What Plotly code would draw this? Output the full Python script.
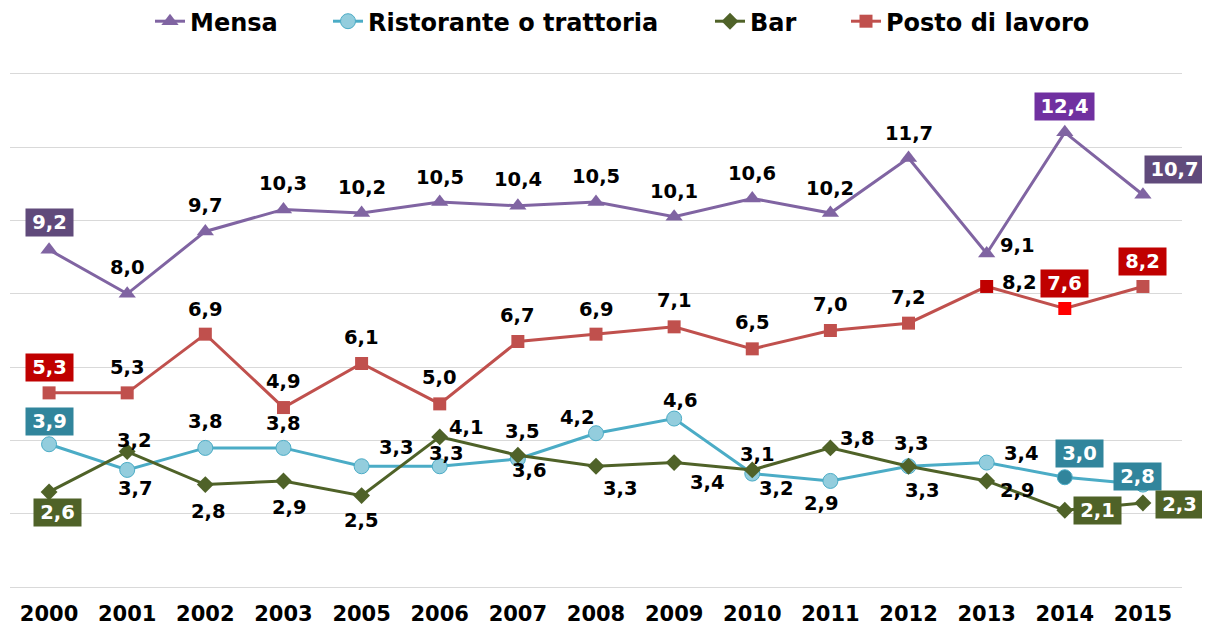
import plotly.graph_objects as go

years = ["2000", "2001", "2002", "2003", "2005", "2006", "2007", "2008",
         "2009", "2010", "2011", "2012", "2013", "2014", "2015"]

mensa = [9.2, 8.0, 9.7, 10.3, 10.2, 10.5, 10.4, 10.5, 10.1, 10.6, 10.2, 11.7, 9.1, 12.4, 10.7]
ristorante = [3.9, 3.2, 3.8, 3.8, 3.3, 3.3, 3.5, 4.2, 4.6, 3.1, 2.9, 3.3, 3.4, 3.0, 2.8]
bar = [2.6, 3.7, 2.8, 2.9, 2.5, 4.1, 3.6, 3.3, 3.4, 3.2, 3.8, 3.3, 2.9, 2.1, 2.3]
posto = [5.3, 5.3, 6.9, 4.9, 6.1, 5.0, 6.7, 6.9, 7.1, 6.5, 7.0, 7.2, 8.2, 7.6, 8.2]

series_names = ["Mensa", "Ristorante o trattoria", "Bar", "Posto di lavoro"]

y_ticks = [0, 2, 4, 6, 8, 10, 12, 14]
Y_MIN, Y_MAX, Y_PAD = 0, 14, 0.1

FONT = "DejaVu Sans"

# page body has an 8px default margin; lay out the figure in page pixels minus 8
OFF = 8
W, H = 1210 - OFF, 626 - OFF
PLOT_LEFT, PLOT_RIGHT = 10 - OFF, 1182 - OFF          # category band edges
Y_TOP_PX, Y_BOT_PX = 74 - OFF, 587 - OFF              # pixel rows of 14 and 0
ppu = (Y_BOT_PX - Y_TOP_PX) / (Y_MAX - Y_MIN)
MT = Y_TOP_PX - Y_PAD * ppu
MB = H - (Y_BOT_PX + Y_PAD * ppu)
ML, MR = PLOT_LEFT, W - PLOT_RIGHT
PW = W - ML - MR
PH = H - MT - MB

# label offsets (xshift, yshift) in px per point — styling only
off_mensa = [(0, 27), (0, 26), (0, 26), (0, 26), (0, 26), (0, 25), (0, 26), (0, 26),
             (0, 25), (0, 25), (0, 25), (0, 25), (31, 8), (0, 26), (32, 25)]
off_posto = [(0, 25), (0, 25), (0, 25), (0, 26), (0, 26), (0, 26), (0, 26), (0, 25),
             (0, 26), (0, 26), (0, 26), (0, 26), (33, 4), (0, 25), (0, 25)]
off_rist = [(0, 23), (7, 29), (0, 26), (0, 24), (35, 19), (7, 13), (5, 27), (-19, 16),
            (6, 18), (5, 19), (-9, -23), (3, 23), (35, 9), (15, 24), (-5, 8)]
off_bar = [(8, -21), (8, -37), (3, -27), (6, -27), (0, -25), (27, 9), (12, -15), (24, -22),
           (33, -20), (24, -19), (27, 9), (14, -24), (31, -10), (33, 0), (37, -2)]

boxes_mensa = {0: "#604A7B", 13: "#7030A0", 14: "#604A7B"}
boxes_posto = {0: "#C00000", 13: "#C00000", 14: "#C00000"}
boxes_rist = {0: "#31859C", 13: "#31859C", 14: "#31859C"}
boxes_bar = {0: "#4F6228", 13: "#4F6228", 14: "#4F6228"}

# legend text start (page px) for each legend entry
legend_text_x = [190, 368, 750, 886]
LEGEND_Y_PX = 22

fig = go.Figure()

fig.add_trace(go.Scatter(
    x=years, y=mensa, name=series_names[0], mode="lines+markers", legend="legend",
    line=dict(color="#8064A2", width=3),
    marker=dict(symbol="triangle-up", size=15, color="#8064A2"),
))
fig.add_trace(go.Scatter(
    x=years, y=ristorante, name=series_names[1], mode="lines+markers", legend="legend2",
    line=dict(color="#4BACC6", width=3),
    marker=dict(symbol="circle", size=15,
                color=["#93CDDD"] * 13 + ["#31859C", "#93CDDD"],
                line=dict(color="#4BACC6", width=1)),
))
fig.add_trace(go.Scatter(
    x=years, y=bar, name=series_names[2], mode="lines+markers", legend="legend3",
    line=dict(color="#4F6228", width=3),
    marker=dict(symbol="diamond", size=13, color="#4F6228"),
))
fig.add_trace(go.Scatter(
    x=years, y=posto, name=series_names[3], mode="lines+markers", legend="legend4",
    line=dict(color="#C0504D", width=3),
    marker=dict(symbol="square", size=13,
                color=["#C0504D"] * 12 + ["#C00000", "#FF0000", "#C0504D"]),
))

annotations = []
LABEL_SIZE = 19.5


def add_labels(values, offsets, boxes):
    for i, v in enumerate(values):
        txt = f"{v:.1f}".replace(".", ",")
        dx, dy = offsets[i]
        boxed = i in boxes
        ann = dict(
            x=i, y=v, xref="x", yref="y", text=txt, showarrow=False,
            xshift=dx, yshift=dy,
            font=dict(family=FONT, size=LABEL_SIZE, color="white" if boxed else "black",
                      weight="bold"),
        )
        if boxed:
            ann["bgcolor"] = boxes[i]
            ann["borderpad"] = 2
            ann["width"] = 43 if len(txt) == 3 else 55
            ann["height"] = 23
        annotations.append(ann)


add_labels(mensa, off_mensa, boxes_mensa)
add_labels(posto, off_posto, boxes_posto)
add_labels(ristorante, off_rist, boxes_rist)
add_labels(bar, off_bar, boxes_bar)

legend_y = 1 + (MT - (LEGEND_Y_PX - OFF)) / PH
legend_common = dict(orientation="h", y=legend_y, yanchor="middle", xanchor="left",
                     font=dict(family=FONT, size=24, color="black", weight="bold"),
                     itemwidth=30, bgcolor="rgba(0,0,0,0)")
legends = {}
for k, tx in enumerate(legend_text_x):
    key = "legend" if k == 0 else f"legend{k + 1}"
    legends[key] = dict(legend_common, x=(tx - OFF - 40 - ML) / PW)

fig.update_layout(
    width=W, height=H,
    margin=dict(l=ML, r=MR, t=MT, b=MB, autoexpand=False),
    paper_bgcolor="white", plot_bgcolor="white",
    showlegend=True,
    annotations=annotations,
    xaxis=dict(type="category", range=[-0.5, len(years) - 0.5], showgrid=False,
               showline=False, ticks="",
               tickfont=dict(family=FONT, size=21, color="black", weight="bold"),
               ticklabelstandoff=8),
    yaxis=dict(range=[Y_MIN - Y_PAD, Y_MAX + Y_PAD], tickvals=y_ticks,
               showticklabels=False, showgrid=True, gridcolor="#D9D9D9", gridwidth=1,
               zeroline=False, showline=False),
    **legends,
)

fig.write_html("out.html")
